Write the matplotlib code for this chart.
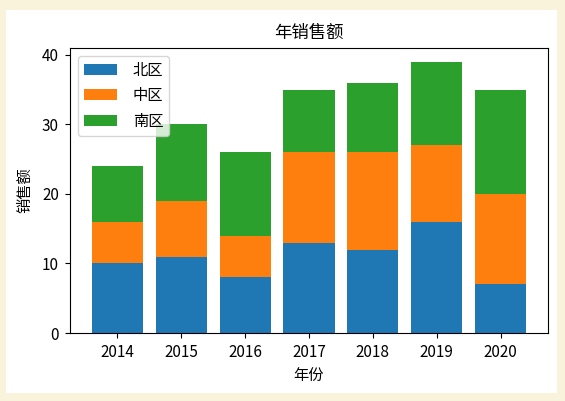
import matplotlib
matplotlib.use("Agg")
import matplotlib.pyplot as plt
from matplotlib.patches import Rectangle
import numpy as np

years = ["2014", "2015", "2016", "2017", "2018", "2019", "2020"]
north = [10, 11, 8, 13, 12, 16, 7]
middle = [6, 8, 6, 13, 14, 11, 13]
south = [8, 11, 12, 9, 10, 12, 15]
series_names = ["北区", "中区", "南区"]
title = "年销售额"
xlabel = "年份"
ylabel = "销售额"

plt.rcParams['font.family'] = ['Noto Sans CJK SC', 'DejaVu Sans']

W, H = 565, 401
fig = plt.figure(figsize=(W / 100, H / 100), dpi=100, facecolor="#f8f3da")
bg = Rectangle((6 / W, 1 - 393 / H), (557 - 6) / W, (393 - 10) / H,
               transform=fig.transFigure, facecolor="white",
               edgecolor="none", zorder=-10)
fig.add_artist(bg)
ax = fig.add_axes([70 / W, 1 - 333 / H, (548 - 70) / W, (333 - 48) / H])

x = np.arange(len(years))
n = np.array(north)
m = np.array(middle)
s = np.array(south)
ax.bar(x, n, width=0.8, color="#1f77b4", label=series_names[0])
ax.bar(x, m, width=0.8, bottom=n, color="#ff7f0e", label=series_names[1])
ax.bar(x, s, width=0.8, bottom=n + m, color="#2ca02c", label=series_names[2])

ax.set_xticks(x)
ax.set_xticklabels(years)
ax.set_ylim(0, 41)
ax.set_yticks([0, 10, 20, 30, 40])
ax.tick_params(labelsize=11, pad=4.5)
ax.set_title(title, fontsize=12.5, pad=7)
ax.set_xlabel(xlabel, fontsize=11, labelpad=4)
ax.set_ylabel(ylabel, fontsize=11, labelpad=6)
ax.legend(loc="upper left", fontsize=11, handlelength=2.2, handletextpad=1.0,
          labelspacing=0.55)

fig.savefig("out.png", dpi=100, facecolor=fig.get_facecolor())
